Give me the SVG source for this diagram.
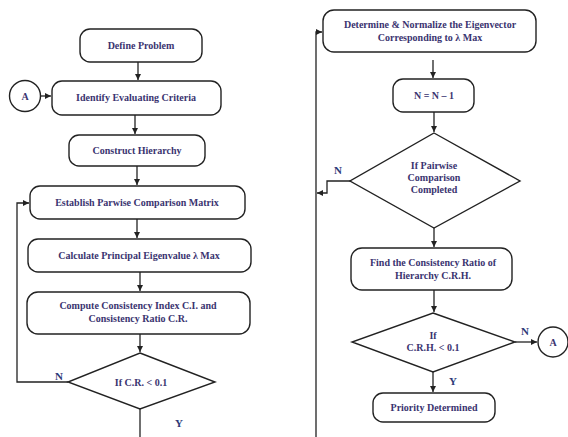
<svg xmlns="http://www.w3.org/2000/svg" width="568" height="437" viewBox="0 0 568 437">
<style>
.box{fill:#fff;stroke:#222;stroke-width:1.4}
.t{font-family:"Liberation Serif","Times New Roman",serif;font-size:10px;font-weight:bold;fill:#3a3470;text-anchor:middle}
.lb{font-family:"Liberation Serif","Times New Roman",serif;font-size:11px;font-weight:bold;fill:#2d3a78;text-anchor:middle}
.c{fill:none;stroke:#222;stroke-width:1.3}
</style>
<defs>
<marker id="ah" markerWidth="8" markerHeight="8" refX="6" refY="3" orient="auto" markerUnits="userSpaceOnUse">
<path d="M0,0 L6,3 L0,6 z" fill="#222"/>
</marker>
</defs>
<rect width="568" height="437" fill="#fff"/>
<g id="connectors">
<line class="c" x1="138" y1="62" x2="138" y2="80" marker-end="url(#ah)"/>
<line class="c" x1="41" y1="96" x2="51" y2="96" marker-end="url(#ah)"/>
<line class="c" x1="135" y1="115" x2="135" y2="134" marker-end="url(#ah)"/>
<line class="c" x1="137" y1="166" x2="137" y2="185" marker-end="url(#ah)"/>
<line class="c" x1="137" y1="219" x2="137" y2="238" marker-end="url(#ah)"/>
<line class="c" x1="140" y1="272" x2="140" y2="291" marker-end="url(#ah)"/>
<line class="c" x1="140" y1="334" x2="140" y2="352" marker-end="url(#ah)"/>
<polyline class="c" points="68,382 17,382 17,203 29,203" marker-end="url(#ah)"/>
<line class="c" x1="140" y1="409" x2="140" y2="437"/>
<polyline class="c" points="316,437 316,32 322,32" marker-end="url(#ah)"/>
<line class="c" x1="433" y1="60" x2="433" y2="78" marker-end="url(#ah)"/>
<line class="c" x1="434" y1="112" x2="434" y2="132" marker-end="url(#ah)"/>
<polyline class="c" points="350,181 327,181 327,193 317,193" marker-end="url(#ah)"/>
<line class="c" x1="434" y1="228" x2="434" y2="247" marker-end="url(#ah)"/>
<line class="c" x1="434" y1="290" x2="434" y2="312" marker-end="url(#ah)"/>
<line class="c" x1="515" y1="342" x2="537" y2="342" marker-end="url(#ah)"/>
<line class="c" x1="433" y1="372" x2="433" y2="392" marker-end="url(#ah)"/>
</g>
<g id="n-define"><rect class="box" x="80" y="29" width="122" height="33" rx="10"/><text class="t" x="141" y="48.5">Define Problem</text></g>
<g id="n-a1"><circle class="box" cx="25" cy="96" r="15.5"/><text class="t" x="25" y="100">A</text></g>
<g id="n-identify"><rect class="box" x="52" y="81" width="169" height="34" rx="10"/><text class="t" x="136" y="101">Identify Evaluating Criteria</text></g>
<g id="n-construct"><rect class="box" x="69" y="135" width="136" height="31" rx="10"/><text class="t" x="137" y="154">Construct Hierarchy</text></g>
<g id="n-establish"><rect class="box" x="30" y="186" width="215" height="33" rx="10"/><text class="t" x="137" y="205.5">Establish Parwise Comparison Matrix</text></g>
<g id="n-calc"><rect class="box" x="28" y="239" width="223" height="33" rx="10"/><text class="t" x="139" y="258.5">Calculate Principal Eigenvalue λ Max</text></g>
<g id="n-compute"><rect class="box" x="27" y="292" width="223" height="42" rx="11"/><text class="t" x="138" y="309">Compute Consistency Index C.I. and</text><text class="t" x="138" y="322">Consistency Ratio C.R.</text></g>
<g id="n-ifcr"><polygon class="box" points="140,353 215,382 140,409 68,382"/><text class="t" x="141" y="385.5">If C.R. &lt; 0.1</text></g>
<text class="lb" x="59" y="380">N</text>
<text class="lb" x="179" y="427">Y</text>
<g id="n-determine"><rect class="box" x="323" y="10" width="213" height="42" rx="11"/><text class="t" x="430" y="28">Determine &amp; Normalize the Eigenvector</text><text class="t" x="430" y="41">Corresponding to λ Max</text></g>
<g id="n-nn1"><rect class="box" x="393" y="79" width="81" height="33" rx="10"/><text class="t" x="434" y="98.5">N = N – 1</text></g>
<g id="n-ifpair"><polygon class="box" points="434,133 520,181 434,228 350,181"/><text class="t" x="434" y="169">If Pairwise</text><text class="t" x="434" y="181">Comparison</text><text class="t" x="434" y="193">Completed</text></g>
<text class="lb" x="338" y="174">N</text>
<g id="n-find"><rect class="box" x="351" y="248" width="161" height="42" rx="11"/><text class="t" x="433" y="266">Find the Consistency Ratio of</text><text class="t" x="433" y="279">Hierarchy C.R.H.</text></g>
<g id="n-ifcrh"><polygon class="box" points="433,313 515,342 433,372 352,342"/><text class="t" x="433" y="339">If</text><text class="t" x="433" y="351">C.R.H. &lt; 0.1</text></g>
<text class="lb" x="525" y="335">N</text>
<text class="lb" x="453" y="385">Y</text>
<g id="n-a2"><circle class="box" cx="553" cy="342" r="15"/><text class="t" x="553" y="346">A</text></g>
<g id="n-priority"><rect class="box" x="373" y="393" width="122" height="29" rx="10"/><text class="t" x="434" y="411">Priority Determined</text></g>
</svg>
